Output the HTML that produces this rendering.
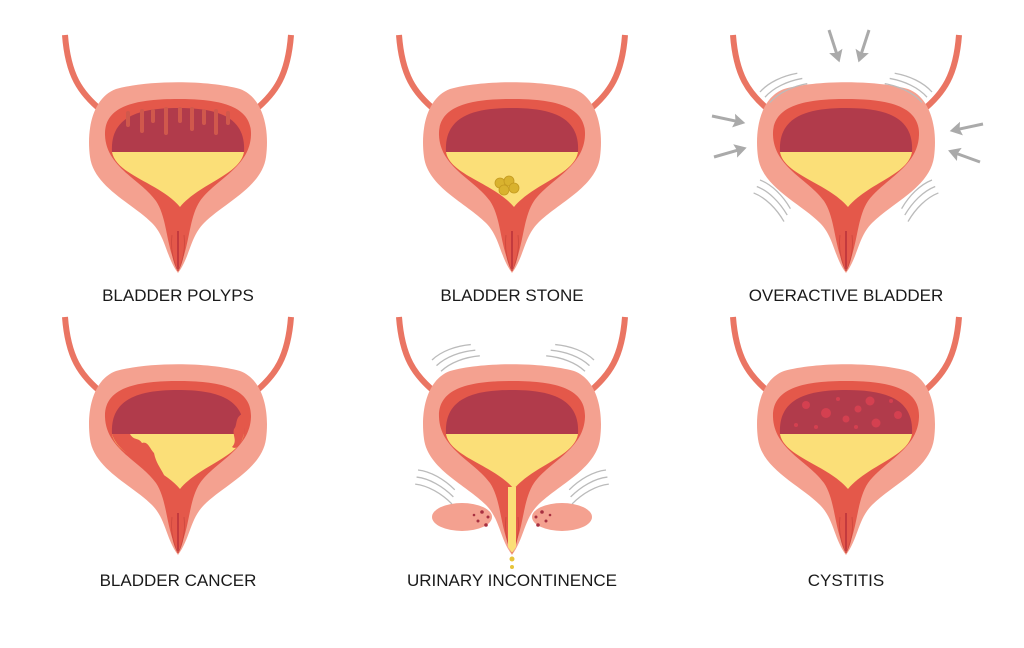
<!DOCTYPE html>
<html><head><meta charset="utf-8"><style>
html,body{margin:0;padding:0;background:#fff;width:1024px;height:648px;overflow:hidden}
svg{display:block}
text{font-family:"Liberation Sans",sans-serif;font-size:17px;fill:#1a1a1a;text-anchor:middle}
</style></head><body>
<svg width="1024" height="648" viewBox="0 0 1024 648" xmlns="http://www.w3.org/2000/svg">
<defs>
<g id="b">
  <path d="M-113,0 C-110,40 -98,58 -76,76" stroke="#ea7563" stroke-width="6" fill="none"/>
  <path d="M113,0 C110,40 98,58 76,76" stroke="#ea7563" stroke-width="6" fill="none"/>
  <path d="M-62,54 C-30,45 30,45 62,54 C84,62 92,92 88,122 C84,152 46,168 26,188 C12,202 12,222 0,238 C-12,222 -12,202 -26,188 C-46,168 -84,152 -88,122 C-92,92 -84,62 -62,54 Z" fill="#f4a190"/>
  <path d="M-73,100 C-74,70 -40,64 0,64 C40,64 74,70 73,100 C72,132 38,144 22,166 C10,184 12,214 0,234 C-12,214 -10,184 -22,166 C-38,144 -72,132 -73,100 Z" fill="#e4584a"/>
  <path d="M-66,117 C-68,82 -40,73 0,73 C40,73 68,82 66,117 Z" fill="#b13b4b"/>
  <path d="M-66,117 L66,117 C62,140 22,148 2,172 C-18,148 -62,140 -66,117 Z" fill="#fbdf78"/>
  <path d="M0,196 L0,234" stroke="#b8303a" stroke-width="1.5"/>
  <path d="M-6,200 C-8,215 -4,228 0,236 M6,200 C8,215 4,228 0,236" stroke="#d04a40" stroke-width="1" fill="none"/>
</g>
<g id="arc" stroke="#bbb" stroke-width="1.3" fill="none">
  <path d="M0,0 C10,-8 25,-12 40,-12"/><path d="M4,6 C14,-2 29,-6 44,-6"/><path d="M8,12 C18,4 33,0 48,0"/>
</g>
<g id="arr" fill="#aaa" stroke="#aaa" stroke-width="3">
  <path d="M0,0 L26,0" /><path d="M34,0 L22,-7 L24,0 L22,7 Z" stroke="none"/>
</g>
</defs>

<!-- Row 1 -->
<g transform="translate(178,35)">
  <use href="#b"/>
  <g stroke="#d0584c" stroke-width="4" stroke-linecap="round">
    <path d="M-50,78 L-50,90 M-36,76 L-36,96 M-25,76 L-25,86 M-12,74 L-12,98 M2,74 L2,86 M14,74 L14,94 M26,76 L26,88 M38,76 L38,98 M50,78 L50,88"/>
  </g>
</g>
<text x="178" y="301">BLADDER POLYPS</text>

<g transform="translate(512,35)">
  <use href="#b"/>
  <g fill="#d9b22e" stroke="#c49a20" stroke-width="0.8">
    <circle cx="-12" cy="148" r="5"/><circle cx="-3" cy="146" r="5"/><circle cx="-8" cy="155" r="5"/><circle cx="2" cy="153" r="5"/>
  </g>
</g>
<text x="512" y="301">BLADDER STONE</text>

<g transform="translate(846,35)">
  <use href="#b"/>
</g>
<g>
  <use href="#arr" transform="translate(829,30) rotate(72)"/>
  <use href="#arr" transform="translate(869,30) rotate(108)"/>
  <use href="#arr" transform="translate(712,116) rotate(12)"/>
  <use href="#arr" transform="translate(714,157) rotate(-16)"/>
  <use href="#arr" transform="translate(983,124) rotate(168)"/>
  <use href="#arr" transform="translate(980,162) rotate(-160)"/>
  <use href="#arc" transform="translate(760,92) rotate(-10)"/>
  <use href="#arc" transform="translate(932,92) scale(-1,1) rotate(-10)"/>
  <use href="#arc" transform="translate(760,180) rotate(60)"/>
  <use href="#arc" transform="translate(932,180) scale(-1,1) rotate(60)"/>
</g>
<text x="846" y="301">OVERACTIVE BLADDER</text>

<!-- Row 2 -->
<g transform="translate(178,317)">
  <use href="#b"/>
  <path d="M-66,117 L-48,117 C-44,124 -40,120 -36,126 C-30,124 -28,132 -24,136 C-22,146 -18,150 -14,158 C-12,164 -6,168 -2,172 C-20,150 -60,140 -66,117 Z" fill="#e4584a"/>
  <path d="M66,96 C56,100 60,108 56,112 C54,118 60,124 54,130 C60,134 64,124 66,117 Z" fill="#e4584a"/>
</g>
<text x="178" y="586">BLADDER CANCER</text>

<g transform="translate(512,317)">
  <g fill="#f4a190">
    <ellipse cx="-50" cy="200" rx="30" ry="14"/><ellipse cx="50" cy="200" rx="30" ry="14"/>
  </g>
  <use href="#b"/>
  <g fill="#a83040">
    <circle cx="-30" cy="195" r="1.8"/><circle cx="-24" cy="200" r="1.5"/><circle cx="-34" cy="204" r="1.5"/><circle cx="-26" cy="208" r="1.8"/><circle cx="-38" cy="198" r="1.3"/>
    <circle cx="30" cy="195" r="1.8"/><circle cx="24" cy="200" r="1.5"/><circle cx="34" cy="204" r="1.5"/><circle cx="26" cy="208" r="1.8"/><circle cx="38" cy="198" r="1.3"/>
  </g>
  <path d="M-4,170 L4,170 L4,230 L0,236 L-4,230 Z" fill="#fbdf78"/>
  <circle cx="0" cy="242" r="2.5" fill="#e6c43a"/><circle cx="0" cy="250" r="2" fill="#e6c43a"/>
</g>
<g>
  <use href="#arc" transform="translate(432,360) rotate(-5)"/>
  <use href="#arc" transform="translate(594,360) scale(-1,1) rotate(-5)"/>
  <use href="#arc" transform="translate(418,470) rotate(45)"/>
  <use href="#arc" transform="translate(606,470) scale(-1,1) rotate(45)"/>
</g>
<text x="512" y="586">URINARY INCONTINENCE</text>

<g transform="translate(846,317)">
  <use href="#b"/>
  <g fill="#d44050">
    <circle cx="-40" cy="88" r="4"/><circle cx="-20" cy="96" r="5"/><circle cx="12" cy="92" r="3.5"/><circle cx="24" cy="84" r="4.5"/><circle cx="0" cy="102" r="3.5"/><circle cx="30" cy="106" r="4.5"/><circle cx="52" cy="98" r="4"/><circle cx="-50" cy="108" r="2"/><circle cx="-30" cy="110" r="2"/><circle cx="45" cy="84" r="2"/><circle cx="-8" cy="82" r="2"/><circle cx="10" cy="110" r="2"/>
  </g>
</g>
<text x="846" y="586">CYSTITIS</text>
</svg>
</body></html>
